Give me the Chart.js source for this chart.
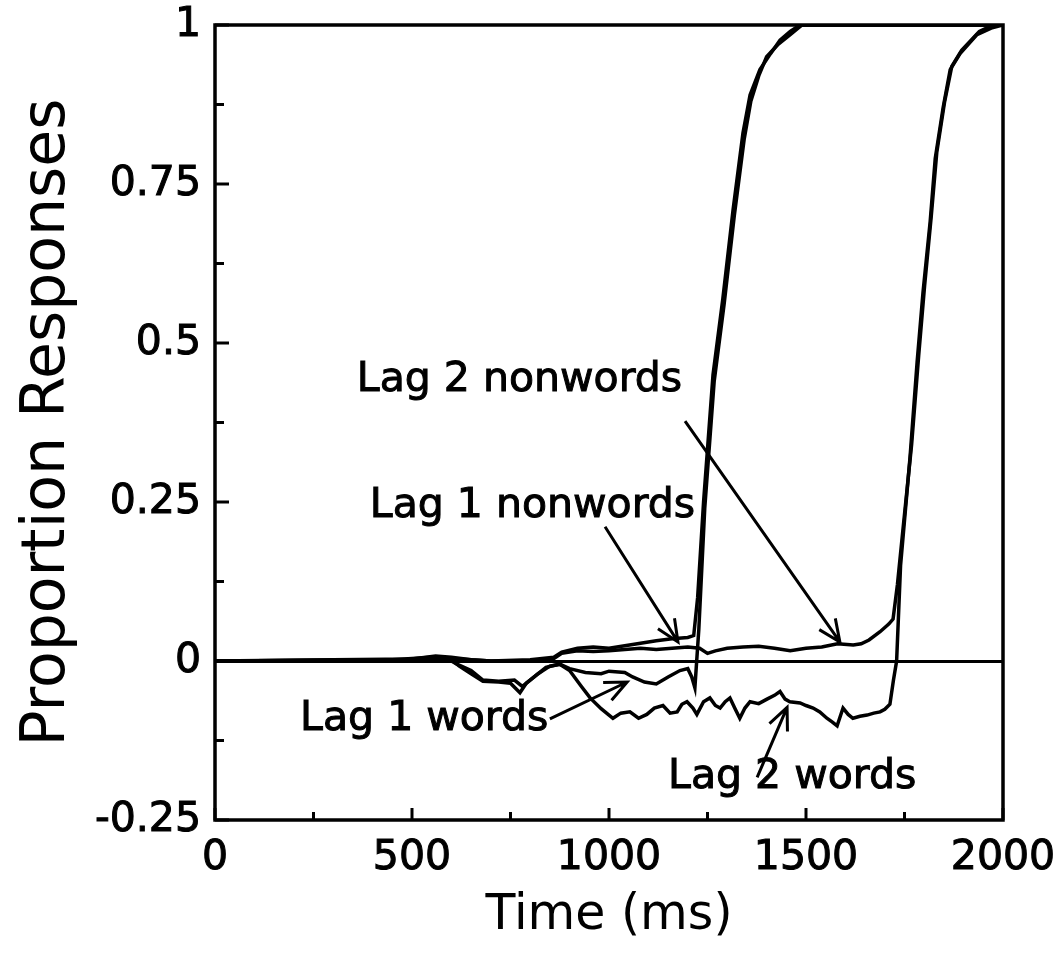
<!DOCTYPE html>
<html>
<head>
<meta charset="utf-8">
<script src="https://cdn.jsdelivr.net/npm/chart.js@4/dist/chart.umd.min.js"></script>
<style>
  html, body { margin: 0; padding: 0; background: #fff; }
</style>
</head>
<body>
<canvas id="rt-chart" width="1062" height="979"></canvas>
<script>
// time (ms) and proportion values
const lag1NonwordsT = [0, 300, 500, 560, 600, 650, 700, 800, 860, 880, 920, 960, 1000, 1040, 1080, 1120, 1160, 1200, 1215, 1225, 1240, 1264, 1289, 1315, 1340, 1358, 1383, 1410, 1434, 1460, 1485, 2000];
const lag1NonwordsP = [0, 0.002, 0.003, 0.008, 0.006, 0.002, 0, 0.002, 0.006, 0.014, 0.02, 0.022, 0.02, 0.024, 0.028, 0.032, 0.035, 0.037, 0.04, 0.1, 0.25, 0.45, 0.57, 0.71, 0.83, 0.89, 0.93, 0.955, 0.976, 0.99, 1, 1];

const lag1WordsT = [0, 400, 560, 600, 614, 650, 680, 720, 760, 780, 800, 840, 875, 900, 940, 980, 1000, 1040, 1060, 1090, 1120, 1150, 1180, 1200, 1210, 1218, 1228, 1243, 1267, 1292, 1318, 1343, 1360, 1380, 1400, 1430, 1460, 1490, 2000];
const lag1WordsP = [0, 0, 0.004, 0, -0.005, -0.015, -0.03, -0.032, -0.03, -0.04, -0.03, -0.01, -0.005, -0.012, -0.018, -0.02, -0.016, -0.018, -0.025, -0.033, -0.036, -0.025, -0.015, -0.012, -0.025, -0.042, 0.05, 0.24, 0.44, 0.56, 0.7, 0.82, 0.88, 0.92, 0.95, 0.97, 0.985, 1, 1];

const lag2NonwordsT = [0, 500, 560, 600, 700, 800, 860, 880, 920, 960, 1000, 1040, 1080, 1120, 1160, 1200, 1230, 1250, 1270, 1300, 1340, 1380, 1420, 1460, 1480, 1500, 1540, 1580, 1620, 1640, 1660, 1688, 1710, 1721, 1732, 1745, 1768, 1786, 1801, 1818, 1832, 1852, 1870, 1895, 1940, 1975, 2000];
const lag2NonwordsP = [0, 0.002, 0.006, 0.004, 0, 0, 0.004, 0.012, 0.016, 0.015, 0.016, 0.018, 0.02, 0.018, 0.02, 0.022, 0.02, 0.012, 0.016, 0.02, 0.022, 0.023, 0.02, 0.016, 0.018, 0.02, 0.022, 0.027, 0.025, 0.027, 0.033, 0.046, 0.058, 0.066, 0.12, 0.2, 0.34, 0.48, 0.59, 0.7, 0.8, 0.88, 0.935, 0.96, 0.99, 1, 1];

const lag2WordsT = [0, 300, 450, 550, 600, 620, 650, 680, 720, 750, 774, 790, 820, 850, 875, 900, 930, 952, 980, 1010, 1030, 1053, 1075, 1096, 1115, 1137, 1155, 1173, 1185, 1198, 1213, 1223, 1240, 1256, 1270, 1282, 1295, 1307, 1320, 1332, 1345, 1358, 1380, 1401, 1420, 1434, 1447, 1459, 1485, 1500, 1518, 1535, 1553, 1567, 1579, 1594, 1607, 1619, 1637, 1655, 1672, 1688, 1700, 1713, 1722, 1730, 1740, 1764, 1782, 1797, 1815, 1828, 1848, 1866, 1891, 1934, 1970, 2000];
const lag2WordsP = [0, 0.001, 0.002, 0.006, 0.002, -0.008, -0.02, -0.032, -0.033, -0.035, -0.05, -0.035, -0.02, -0.008, -0.005, -0.015, -0.04, -0.058, -0.075, -0.09, -0.082, -0.08, -0.09, -0.084, -0.074, -0.07, -0.082, -0.08, -0.068, -0.064, -0.074, -0.084, -0.064, -0.058, -0.07, -0.074, -0.064, -0.058, -0.075, -0.09, -0.074, -0.064, -0.067, -0.06, -0.054, -0.048, -0.06, -0.064, -0.066, -0.07, -0.074, -0.08, -0.09, -0.096, -0.102, -0.074, -0.084, -0.09, -0.087, -0.085, -0.082, -0.08, -0.076, -0.068, -0.03, 0, 0.15, 0.32, 0.47, 0.58, 0.69, 0.79, 0.87, 0.93, 0.955, 0.985, 0.995, 1];

// labels with arrows, in data units (ms, proportion)
const noteText = ['Lag 2 nonwords', 'Lag 1 nonwords', 'Lag 1 words', 'Lag 2 words'];
const noteAt = [[360, 0.424], [393, 0.227], [216, -0.109], [1150, -0.199]];
const arrowFrom = [[1193, 0.377], [990, 0.211], [850, -0.091], [1376, -0.183]];
const arrowTo = [[1586, 0.03], [1175, 0.03], [1046, -0.033], [1452, -0.073]];

function toPoints(t, p) {
    let pts = [];
    for (let i = 0; i < t.length; i++) {
        pts.push({ x: t[i], y: p[i] });
    }
    return pts;
}

function lineSet(label, t, p) {
    return {
        label: label,
        data: toPoints(t, p),
        borderColor: '#000',
        borderWidth: 3.5,
        pointRadius: 0,
        tension: 0,
        fill: false
    };
}

const FONT = 'DejaVu Sans';

// frame, inward ticks and the arrow labels
const framePlugin = {
    id: 'frame',
    afterDraw(chart) {
        const ctx = chart.ctx;
        const a = chart.chartArea;
        const xs = chart.scales.x;
        const ys = chart.scales.y;
        ctx.save();
        ctx.strokeStyle = '#000';
        ctx.lineWidth = 3.5;
        ctx.strokeRect(a.left, a.top, a.right - a.left, a.bottom - a.top);

        ctx.lineWidth = 3;
        xs.ticks.forEach(t => {
            const px = xs.getPixelForValue(t.value);
            const len = t.value % 500 === 0 ? 12 : 8;
            ctx.beginPath();
            ctx.moveTo(px, a.bottom);
            ctx.lineTo(px, a.bottom - len);
            ctx.stroke();
        });
        ys.ticks.forEach(t => {
            const py = ys.getPixelForValue(t.value);
            const major = Math.abs(t.value * 4 - Math.round(t.value * 4)) < 1e-6;
            ctx.beginPath();
            ctx.moveTo(a.left, py);
            ctx.lineTo(a.left + (major ? 14 : 9), py);
            ctx.stroke();
        });

        ctx.fillStyle = '#000';
        ctx.font = '41px "' + FONT + '"';
        ctx.textAlign = 'left';
        ctx.textBaseline = 'alphabetic';
        for (let i = 0; i < noteText.length; i++) {
            const tx = xs.getPixelForValue(noteAt[i][0]);
            const ty = ys.getPixelForValue(noteAt[i][1]);
            ctx.lineWidth = 1;
            ctx.fillText(noteText[i], tx, ty);
            ctx.strokeText(noteText[i], tx, ty);
            const x0 = xs.getPixelForValue(arrowFrom[i][0]);
            const y0 = ys.getPixelForValue(arrowFrom[i][1]);
            const x1 = xs.getPixelForValue(arrowTo[i][0]);
            const y1 = ys.getPixelForValue(arrowTo[i][1]);
            const ang = Math.atan2(y1 - y0, x1 - x0);
            ctx.lineWidth = 3;
            ctx.beginPath();
            ctx.moveTo(x0, y0);
            ctx.lineTo(x1, y1);
            ctx.moveTo(x1 - 24 * Math.cos(ang - 0.42), y1 - 24 * Math.sin(ang - 0.42));
            ctx.lineTo(x1, y1);
            ctx.lineTo(x1 - 24 * Math.cos(ang + 0.42), y1 - 24 * Math.sin(ang + 0.42));
            ctx.stroke();
        }
        ctx.restore();
    }
};

Chart.defaults.font.family = FONT;
Chart.defaults.color = '#000';

const ctx = document.getElementById('rt-chart').getContext('2d');
window.rtChart = new Chart(ctx, {
    type: 'line',
    data: {
        datasets: [
            lineSet('Lag 1 nonwords', lag1NonwordsT, lag1NonwordsP),
            lineSet('Lag 1 words', lag1WordsT, lag1WordsP),
            lineSet('Lag 2 nonwords', lag2NonwordsT, lag2NonwordsP),
            lineSet('Lag 2 words', lag2WordsT, lag2WordsP)
        ]
    },
    options: {
        responsive: false,
        animation: false,
        devicePixelRatio: 1,
        layout: { padding: { top: 25, right: 59, left: 0, bottom: 0 } },
        plugins: {
            legend: { display: false },
            tooltip: { enabled: false }
        },
        scales: {
            x: {
                type: 'linear',
                min: 0,
                max: 2000,
                afterFit(scale) { scale.height = 159; },
                ticks: {
                    stepSize: 250,
                    maxRotation: 0,
                    autoSkip: false,
                    padding: 6,
                    font: { size: 41 },
                    textStrokeColor: '#000',
                    textStrokeWidth: 1,
                    callback(v) { return v % 500 === 0 ? String(v) : ''; }
                },
                grid: { display: false },
                border: { display: false },
                title: {
                    display: true,
                    text: 'Time (ms)',
                    font: { size: 49 },
                    padding: { top: 0, bottom: 33 }
                }
            },
            y: {
                type: 'linear',
                min: -0.25,
                max: 1,
                afterFit(scale) {
                    scale.width = 215;
                    // let the top label hang over the layout padding
                    scale.paddingTop = 0;
                    scale.paddingBottom = 0;
                },
                ticks: {
                    stepSize: 0.125,
                    autoSkip: false,
                    padding: 14,
                    font: { size: 41 },
                    textStrokeColor: '#000',
                    textStrokeWidth: 1,
                    callback(v) {
                        const major = Math.abs(v * 4 - Math.round(v * 4)) < 1e-6;
                        return major ? String(+v.toFixed(2)) : '';
                    }
                },
                grid: {
                    drawTicks: false,
                    lineWidth: 3,
                    color(c) { return c.tick && Math.abs(c.tick.value) < 1e-9 ? '#000' : 'rgba(0,0,0,0)'; }
                },
                border: { display: false },
                title: {
                    display: true,
                    text: 'Proportion Responses',
                    font: { size: 60 },
                    padding: { top: 12, bottom: 0 }
                }
            }
        }
    },
    plugins: [framePlugin]
});
</script>
</body>
</html>
